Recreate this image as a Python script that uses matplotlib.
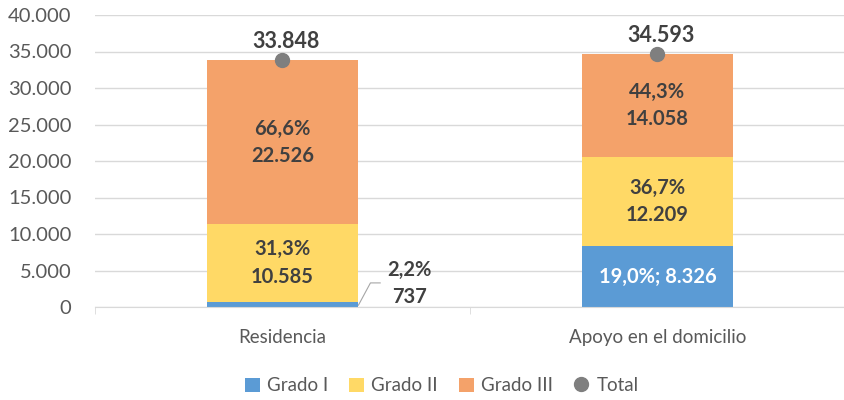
import numpy as np
import matplotlib.pyplot as plt
from matplotlib.ticker import FuncFormatter

plt.rcParams['font.family'] = ['Lato', 'DejaVu Sans']

# datos
categorias = ['Residencia', 'Apoyo en el domicilio']
grado1 = [737, 8326]
grado2 = [10585, 12209]
grado3 = [22526, 14058]
total = [33848, 34593]
pct1 = ['2,2%', '19,0%']
pct2 = ['31,3%', '36,7%']
pct3 = ['66,6%', '44,3%']

def miles(v):
    return f'{int(v):,}'.replace(',', '.')

c1 = '#5B9BD5'
c2 = '#FFD966'
c3 = '#F4A26A'
cT = '#7F7F7F'
txt = '#404040'

fig = plt.figure(figsize=(8.45, 4.0), dpi=100)
ax = fig.add_axes([95/845, 93/400, 750/845, 292/400])

x = np.arange(len(categorias))
w = 0.405
g1 = np.array(grado1)
g2 = np.array(grado2)
g3 = np.array(grado3)
b1 = ax.bar(x, g1, w, color=c1, label='Grado I', zorder=2)
b2 = ax.bar(x, g2, w, bottom=g1, color=c2, label='Grado II', zorder=2)
b3 = ax.bar(x, g3, w, bottom=g1 + g2, color=c3, label='Grado III', zorder=2)
pt, = ax.plot(x, total, 'o', color=cT, markersize=10, label='Total', zorder=3)

# etiquetas
for i in range(len(x)):
    ax.text(x[i], g1[i] + g2[i] / 2, pct2[i] + '\n' + miles(g2[i]), ha='center', va='center',
            fontsize=14.5, fontweight='bold', color=txt, linespacing=1.45, zorder=4)
    ax.text(x[i], g1[i] + g2[i] + g3[i] / 2, pct3[i] + '\n' + miles(g3[i]), ha='center', va='center',
            fontsize=14.5, fontweight='bold', color=txt, linespacing=1.45, zorder=4)
    ax.text(x[i] + 0.01, total[i] + 1100, miles(total[i]), ha='center', va='bottom',
            fontsize=15.5, fontweight='bold', color=txt, zorder=4)

# Grado I
ax.text(x[1], g1[1] / 2, pct1[1] + '; ' + miles(g1[1]), ha='center', va='center',
        fontsize=14.5, fontweight='bold', color='white', zorder=4)
ax.plot([x[0] + w / 2, x[0] + w / 2 + 0.032, x[0] + w / 2 + 0.058], [250, 3300, 3300],
        color='#A6A6A6', lw=0.8, zorder=4, clip_on=False)
ax.text(x[0] + w / 2 + 0.135, 3200, pct1[0] + '\n' + miles(g1[0]), ha='center', va='center',
        fontsize=14.5, fontweight='bold', color=txt, linespacing=1.45, zorder=4)

ax.set_xlim(-0.5, 1.5)
ax.set_ylim(0, 40000)
ax.set_yticks(np.arange(0, 40001, 5000))
ax.yaxis.set_major_formatter(FuncFormatter(lambda v, p: miles(v)))
ax.set_xticks(x)
ax.set_xticklabels(categorias)
ax.set_xticks([-0.5, 0.5, 1.5], minor=True)
ax.tick_params(axis='x', which='major', length=0, pad=16, labelsize=13.5, labelcolor='#595959')
ax.tick_params(axis='x', which='minor', length=5, color='#D9D9D9')
ax.tick_params(axis='y', length=0, pad=17, labelsize=14.5, labelcolor='#595959')
ax.grid(axis='y', color='#D9D9D9', lw=1, zorder=0)
for s in ['top', 'right', 'left']:
    ax.spines[s].set_visible(False)
ax.spines['bottom'].set_color('#D9D9D9')

ax.legend(handles=[b1, b2, b3, pt], loc='center', bbox_to_anchor=(0.462, -0.27), ncol=4,
          frameon=False, fontsize=13.5, labelcolor='#595959', handlelength=0.8,
          handleheight=0.8, handletextpad=0.4, columnspacing=1.1)

plt.savefig('out.png', dpi=100)
